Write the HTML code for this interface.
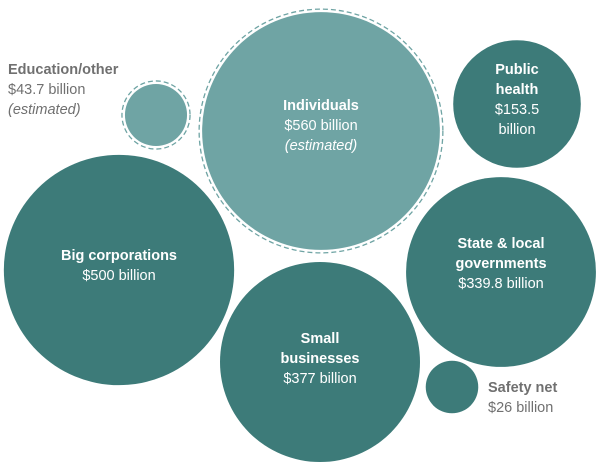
<!DOCTYPE html>
<html><head><meta charset="utf-8"><style>
body{margin:0;background:#fff;}
svg{display:block;font-family:"Liberation Sans",sans-serif;}
</style></head><body>
<svg id="chart" width="600" height="475"></svg>
<script>
const categories=["Individuals","Education/other","Public health","Big corporations","State & local governments","Small businesses","Safety net"];
const values=[560,43.7,153.5,500,339.8,377,26];
const valueLabels=["$560 billion","$43.7 billion","$153.5 billion","$500 billion","$339.8 billion","$377 billion","$26 billion"];
const estimated=[true,true,false,false,false,false,false];
// layout (positions are not data)
const centers=[[321,131],[156,115],[517,104],[119,270],[501,272],[320,362],[452,387]];
const svg=document.getElementById('chart');
const NS='http://www.w3.org/2000/svg';
function rScale(v){return 5.15*Math.sqrt(v);}
function mk(t,a){const e=document.createElementNS(NS,t);for(const k in a)e.setAttribute(k,a[k]);return e;}
function txt(x,y,s,opt){const e=mk('text',{x:x,y:y,'font-size':opt.size||14.5,'font-weight':opt.bold?'bold':'normal','font-style':opt.italic?'italic':'normal',fill:opt.fill,'text-anchor':opt.anchor||'middle'});e.textContent=s;svg.appendChild(e);return e;}
const dark='#3d7b79',light='#6fa4a4',gray='#707070';
categories.forEach((c,i)=>{
  const [cx,cy]=centers[i];let r=rScale(values[i]);
  const col=estimated[i]?light:dark;
  if(estimated[i]) r-=3;
  const circ=mk('circle',{cx:cx,cy:cy,r:r,fill:col});
  
  
  svg.appendChild(circ);
  if(estimated[i]){
    const ring=mk('circle',{cx:cx,cy:cy,r:r+3,fill:'none',stroke:light,'stroke-width':1.3,'stroke-dasharray':'5,3'});
    
    
    svg.appendChild(ring);
  }
});
function lbl(lines,x,y,fill,anchor,name){
  const g=mk('g',{});svg.appendChild(g);
  lines.forEach((l,j)=>{const t=txt(x,y+j*20,l[0],{bold:l[1]==='b',italic:l[1]==='i',fill:fill,anchor:anchor});g.appendChild(t);});
}
lbl([["Individuals","b"],[valueLabels[0],""],["(estimated)","i"]],321,110,'#fff','middle','label-individuals');
lbl([["Education/other","b"],[valueLabels[1],""],["(estimated)","i"]],8,74,gray,'start','label-education');
lbl([["Public","b"],["health","b"],[valueLabels[2].split(' ')[0],""],["billion",""]],517,74,'#fff','middle','label-public-health');
lbl([["Big corporations","b"],[valueLabels[3],""]],119,260,'#fff','middle','label-big-corporations');
lbl([["State & local","b"],["governments","b"],[valueLabels[4],""]],501,248,'#fff','middle','label-state-local');
lbl([["Small","b"],["businesses","b"],[valueLabels[5],""]],320,343,'#fff','middle','label-small-businesses');
lbl([["Safety net","b"],[valueLabels[6],""]],488,392,gray,'start','label-safety-net');
</script>
</body></html>
